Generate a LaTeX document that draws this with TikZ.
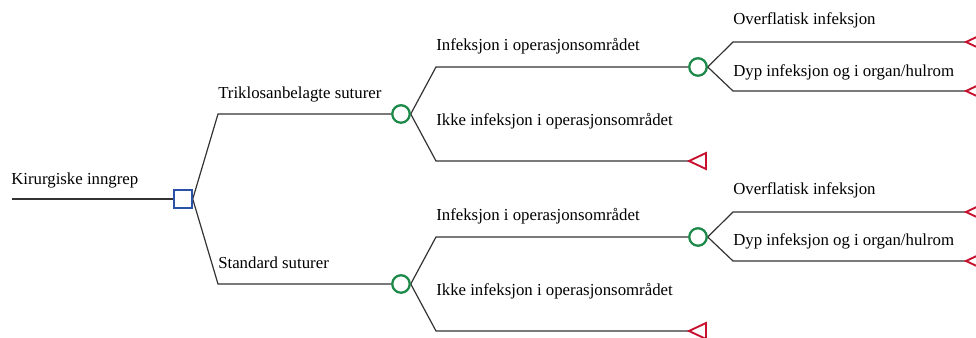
\documentclass[tikz,border=0pt]{standalone}
\usepackage{fontspec}
\setmainfont{Liberation Serif}
\definecolor{sqblue}{HTML}{2A52A8}
\definecolor{cgreen}{HTML}{1E8A4A}
\definecolor{tred}{HTML}{C8102E}
\definecolor{edge}{HTML}{333333}
\tikzset{
  decsq/.style={draw=sqblue, line width=1.6pt, fill=white, minimum size=13pt, inner sep=0pt},
  chance/.style={circle, draw=cgreen, line width=1.6pt, fill=white, minimum size=13pt, inner sep=0pt},
  term/.style={draw=tred, line width=1.4pt, fill=white, line join=miter},
  br/.style={draw=edge, line width=0.9pt},
  lbl/.style={anchor=base west, inner sep=0pt, font=\fontsize{12.6pt}{15pt}\selectfont}
}
\begin{document}
\begin{tikzpicture}[x=0.75pt, y=-0.75pt]
\useasboundingbox (0,0) rectangle (976,338);
% root
\coordinate (r0) at (12,199);
\node[decsq] (d) at (183,199) {};
% chance nodes
\node[chance] (c1) at (401,114) {};
\node[chance] (c2) at (401,284) {};
\node[chance] (c11) at (698,67) {};
\node[chance] (c21) at (698,237) {};
% bend points
\coordinate (b1) at (218,114);
\coordinate (b2) at (218,284);
\coordinate (b11) at (436,67);
\coordinate (b12) at (436,161);
\coordinate (b21) at (436,237);
\coordinate (b22) at (436,331);
\coordinate (b111) at (733,42);
\coordinate (b112) at (733,91);
\coordinate (b211) at (733,212);
\coordinate (b212) at (733,261);
% terminal tips
\coordinate (t12) at (689,161);
\coordinate (t22) at (689,331);
\coordinate (t111) at (966,42);
\coordinate (t112) at (966,91);
\coordinate (t211) at (966,212);
\coordinate (t212) at (966,261);
% edges
\draw[br] (r0) -- (d.west);
\draw[br] (d.east) -- (b1) -- (c1.west);
\draw[br] (d.east) -- (b2) -- (c2.west);
\draw[br] (c1.east) -- (b11) -- (c11.west);
\draw[br] (c1.east) -- (b12) -- (t12);
\draw[br] (c2.east) -- (b21) -- (c21.west);
\draw[br] (c2.east) -- (b22) -- (t22);
\draw[br] (c11.east) -- (b111) -- (t111);
\draw[br] (c11.east) -- (b112) -- (t112);
\draw[br] (c21.east) -- (b211) -- (t211);
\draw[br] (c21.east) -- (b212) -- (t212);
% redraw nodes on top
\node[decsq] at (d) {};
\node[chance] at (c1) {};
\node[chance] at (c2) {};
\node[chance] at (c11) {};
\node[chance] at (c21) {};
% terminals
\foreach \t in {t12,t22,t111,t112,t211,t212}
  \draw[term] (\t) -- ++(17,-8) -- ++(0,16) -- cycle;
% labels
\node[lbl] (l0) at (11,185) {Kirurgiske inngrep};
\node[lbl] (l1) at (218,99) {Triklosanbelagte suturer};
\node[lbl] (l2) at (218,269) {Standard suturer};
\node[lbl] (l11) at (436,51) {Infeksjon i operasjonsområdet};
\node[lbl] (l12) at (436,126) {Ikke infeksjon i operasjonsområdet};
\node[lbl] (l21) at (436,221) {Infeksjon i operasjonsområdet};
\node[lbl] (l22) at (436,296) {Ikke infeksjon i operasjonsområdet};
\node[lbl] (l111) at (733,25) {Overflatisk infeksjon};
\node[lbl] (l112) at (733,77) {Dyp infeksjon og i organ/hulrom};
\node[lbl] (l211) at (733,195) {Overflatisk infeksjon};
\node[lbl] (l212) at (733,246) {Dyp infeksjon og i organ/hulrom};
\end{tikzpicture}
\end{document}
